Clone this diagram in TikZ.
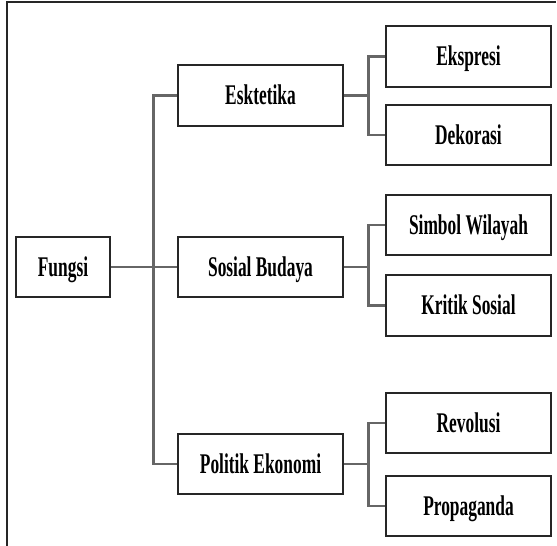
\documentclass[tikz,border=0pt]{standalone}
\usepackage{fontspec}
\setmainfont[FakeStretch=0.61]{Liberation Serif}
\begin{document}
\begin{tikzpicture}[x=1pt,y=-1pt,
  box/.style={draw=black!85,line width=1.3pt,fill=white,inner sep=0pt,
    minimum width=165pt,minimum height=60pt,text height=18.8pt,text depth=0pt,
    font=\fontsize{28.5}{30}\selectfont\bfseries},
  conn/.style={draw=black!60,line width=2.4pt},
  frame/.style={draw=black!85,line width=1.4pt}]
\useasboundingbox (0,0) rectangle (557,546);
% frame (partially cropped)
\coordinate (ftl) at (7,2);
\coordinate (ftr) at (556,2);
\coordinate (fbl) at (7,546);
\draw[frame] (fbl) -- (ftl) -- (ftr);
% nodes
\node[box,minimum width=94pt] (fungsi) at (63,267) {Fungsi};
\node[box] (esk) at (260.5,95.5) {Esktetika};
\node[box] (sos) at (260.5,267) {Sosial Budaya};
\node[box] (pol) at (260.5,464) {Politik Ekonomi};
\node[box] (eks) at (468.5,56.5) {Ekspresi};
\node[box] (dek) at (468.5,135) {Dekorasi};
\node[box] (sim) at (468.5,225) {Simbol Wilayah};
\node[box] (kri) at (468.5,305.5) {Kritik Sosial};
\node[box] (rev) at (468.5,423) {Revolusi};
\node[box] (pro) at (468.5,506) {Propaganda};
% connectors
\draw[conn] (fungsi.east) -- (sos.west);
\draw[conn] (esk.west) -- ++(-24,0) |- (pol.west);
\draw[conn] (esk.east) -- ++(26,0);
\draw[conn] (eks.west) -- ++(-17,0) |- (dek.west);
\draw[conn] (sos.east) -- ++(26,0);
\draw[conn] (sim.west) -- ++(-17,0) |- (kri.west);
\draw[conn] (pol.east) -- ++(26,0);
\draw[conn] (rev.west) -- ++(-17,0) |- (pro.west);
% redraw boxes' borders on top of connectors
\foreach \n in {fungsi,esk,sos,pol,eks,dek,sim,kri,rev,pro}
  \draw[draw=black!85,line width=1.3pt] (\n.north west) rectangle (\n.south east);
\end{tikzpicture}
\end{document}
